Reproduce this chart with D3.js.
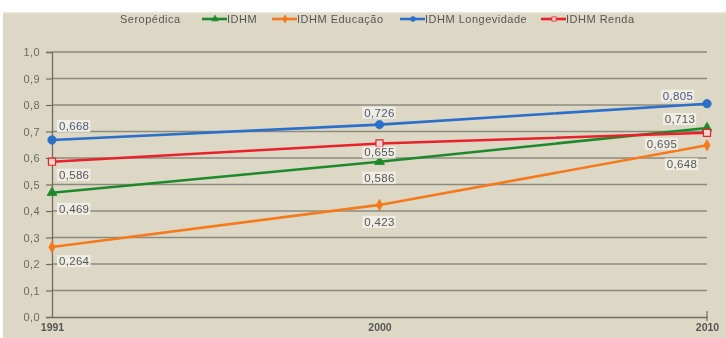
<!DOCTYPE html>
<html>
<head>
<meta charset="utf-8">
<script src="https://cdn.jsdelivr.net/npm/d3@7/dist/d3.min.js"></script>
<style>
  html, body { margin: 0; padding: 0; background: #fff; }
  svg { display: block; font-family: "Liberation Sans", Arial, sans-serif; }
</style>
</head>
<body>
<svg id="chart" width="726" height="338"></svg>
<script>
// IDHM de Seropédica por componente
const years = ["1991", "2000", "2010"];
const idhm = [0.469, 0.586, 0.713];
const idhmEducacao = [0.264, 0.423, 0.648];
const idhmLongevidade = [0.668, 0.726, 0.805];
const idhmRenda = [0.586, 0.655, 0.695];
const yTicks = [0, 0.1, 0.2, 0.3, 0.4, 0.5, 0.6, 0.7, 0.8, 0.9, 1.0];
const legendTitle = "Seropédica";

const series = [
  { name: "IDHM", values: idhm, color: "#1f8a2c", symbol: d3.symbolTriangle, size: 42 },
  { name: "IDHM Educação", values: idhmEducacao, color: "#f47a1f", symbol: d3.symbolDiamond, size: 36 },
  { name: "IDHM Longevidade", values: idhmLongevidade, color: "#2b6fca", symbol: d3.symbolCircle, size: 55 },
  { name: "IDHM Renda", values: idhmRenda, color: "#e8212b", symbol: d3.symbolSquare, size: 50, hollow: true }
];

// label offsets (px) relative to each point, with text anchor
const labelLayout = {
  "IDHM": [[7, 16, "start"], [0, 16, "middle"], [-27, -9, "middle"]],
  "IDHM Educação": [[7, 14, "start"], [0, 17, "middle"], [-25, 19, "middle"]],
  "IDHM Longevidade": [[7, -14, "start"], [0, -12, "middle"], [-29, -8, "middle"]],
  "IDHM Renda": [[7, 13, "start"], [0, 9, "middle"], [-45, 11, "middle"]]
};

const svg = d3.select("#chart");
const fmt = v => d3.format(".3f")(v).replace(".", ",");
const fmtTick = v => d3.format(".1f")(v).replace(".", ",");

const defs = svg.append("defs");
defs.append("filter").attr("id", "soft").append("feGaussianBlur").attr("stdDeviation", 0.35);

// panel background
svg.append("rect").attr("x", 3).attr("y", 13).attr("width", 723).attr("height", 325)
  .attr("fill", "#ddd8c5");
svg.append("rect").attr("x", 3).attr("y", 12).attr("width", 723).attr("height", 1.5)
  .attr("fill", "#e9e6da");

const g = svg.append("g").attr("filter", "url(#soft)");

const x = d3.scalePoint().domain(years).range([52, 707]);
const y = d3.scaleLinear().domain([0, 1]).range([317, 52]);

// gridlines
g.append("g").selectAll("line").data(yTicks.filter(t => t > 0)).join("line")
  .attr("x1", 52).attr("x2", 707)
  .attr("y1", d => y(d)).attr("y2", d => y(d))
  .attr("stroke", "#8c8a7c").attr("stroke-width", 1.3);

// y axis
const yAxis = g.append("g").attr("transform", "translate(52,0)")
  .call(d3.axisLeft(y).tickValues(yTicks).tickFormat(fmtTick).tickSize(6).tickPadding(6));
yAxis.select(".domain").attr("stroke", "#6f6d62").attr("stroke-width", 1.3);
yAxis.selectAll(".tick line").attr("stroke", "#6f6d62").attr("stroke-width", 1.2);
yAxis.selectAll(".tick text").attr("fill", "#6a6a66").attr("font-size", 11)
  .attr("letter-spacing", 0.4)
  .attr("font-family", "Liberation Sans, Arial, sans-serif");

// x axis
const xAxis = g.append("g").attr("transform", "translate(0,317)")
  .call(d3.axisBottom(x).tickSize(0).tickPadding(7));
xAxis.select(".domain").attr("stroke", "#6f6d62").attr("stroke-width", 1.3);
xAxis.selectAll(".tick text").attr("fill", "#555").attr("font-size", 10.5)
  .attr("font-weight", "bold")
  .attr("font-family", "Liberation Sans, Arial, sans-serif");
xAxis.append("line").attr("x1", x("2010")).attr("x2", x("2010"))
  .attr("y1", -6).attr("y2", 4).attr("stroke", "#6f6d62").attr("stroke-width", 1.2);

// lines and markers
const line = d3.line().x((d, i) => x(years[i])).y(d => y(d));
series.forEach(s => {
  g.append("path").datum(s.values).attr("d", line)
    .attr("fill", "none").attr("stroke", s.color).attr("stroke-width", 2.6);
});
series.forEach(s => {
  g.append("g").selectAll("path").data(s.values).join("path")
    .attr("transform", (d, i) => `translate(${x(years[i])},${y(d)})`)
    .attr("d", d3.symbol().type(s.symbol).size(s.size))
    .attr("fill", s.hollow ? "#f1d8cf" : s.color)
    .attr("stroke", s.color).attr("stroke-width", s.hollow ? 1.2 : 0.8);
});

// value labels
series.forEach(s => {
  s.values.forEach((v, i) => {
    const [dx, dy, anchor] = labelLayout[s.name][i];
    const lx = x(years[i]) + dx, ly = y(v) + dy;
    const lg = g.append("g");
    const t = lg.append("text").attr("x", lx).attr("y", ly).attr("dy", "0.35em")
      .attr("text-anchor", anchor).attr("font-size", 11.5).attr("letter-spacing", 0.3)
      .attr("fill", s.name === "IDHM Longevidade" ? "#4a5a7a" : "#555")
      .text(fmt(v));
    const b = t.node().getBBox();
    lg.insert("rect", "text").attr("x", b.x - 2).attr("y", b.y).attr("width", b.width + 3)
      .attr("height", b.height).attr("fill", "#f3f1ea").attr("opacity", 0.85);
  });
});

// legend
const legend = g.append("g").attr("transform", "translate(0,19)");
legend.append("text").attr("x", 120).attr("y", 0).attr("dy", "0.35em")
  .attr("font-size", 11).attr("letter-spacing", 0.5).attr("fill", "#555").text(legendTitle);
const legendX = [202, 272, 400, 541];
series.forEach((s, i) => {
  const lx = legendX[i];
  legend.append("line").attr("x1", lx).attr("x2", lx + 25).attr("y1", 0).attr("y2", 0)
    .attr("stroke", s.color).attr("stroke-width", 2.6);
  legend.append("path").attr("transform", `translate(${lx + 13},0)`)
    .attr("d", d3.symbol().type(s.symbol).size(18))
    .attr("fill", s.hollow ? "#f1d8cf" : s.color).attr("stroke", s.color).attr("stroke-width", 0.8);
  legend.append("text").attr("x", lx + 25).attr("y", 0).attr("dy", "0.35em")
    .attr("font-size", 11).attr("letter-spacing", 0.5).attr("fill", "#555").text(s.name);
});
</script>
</body>
</html>
